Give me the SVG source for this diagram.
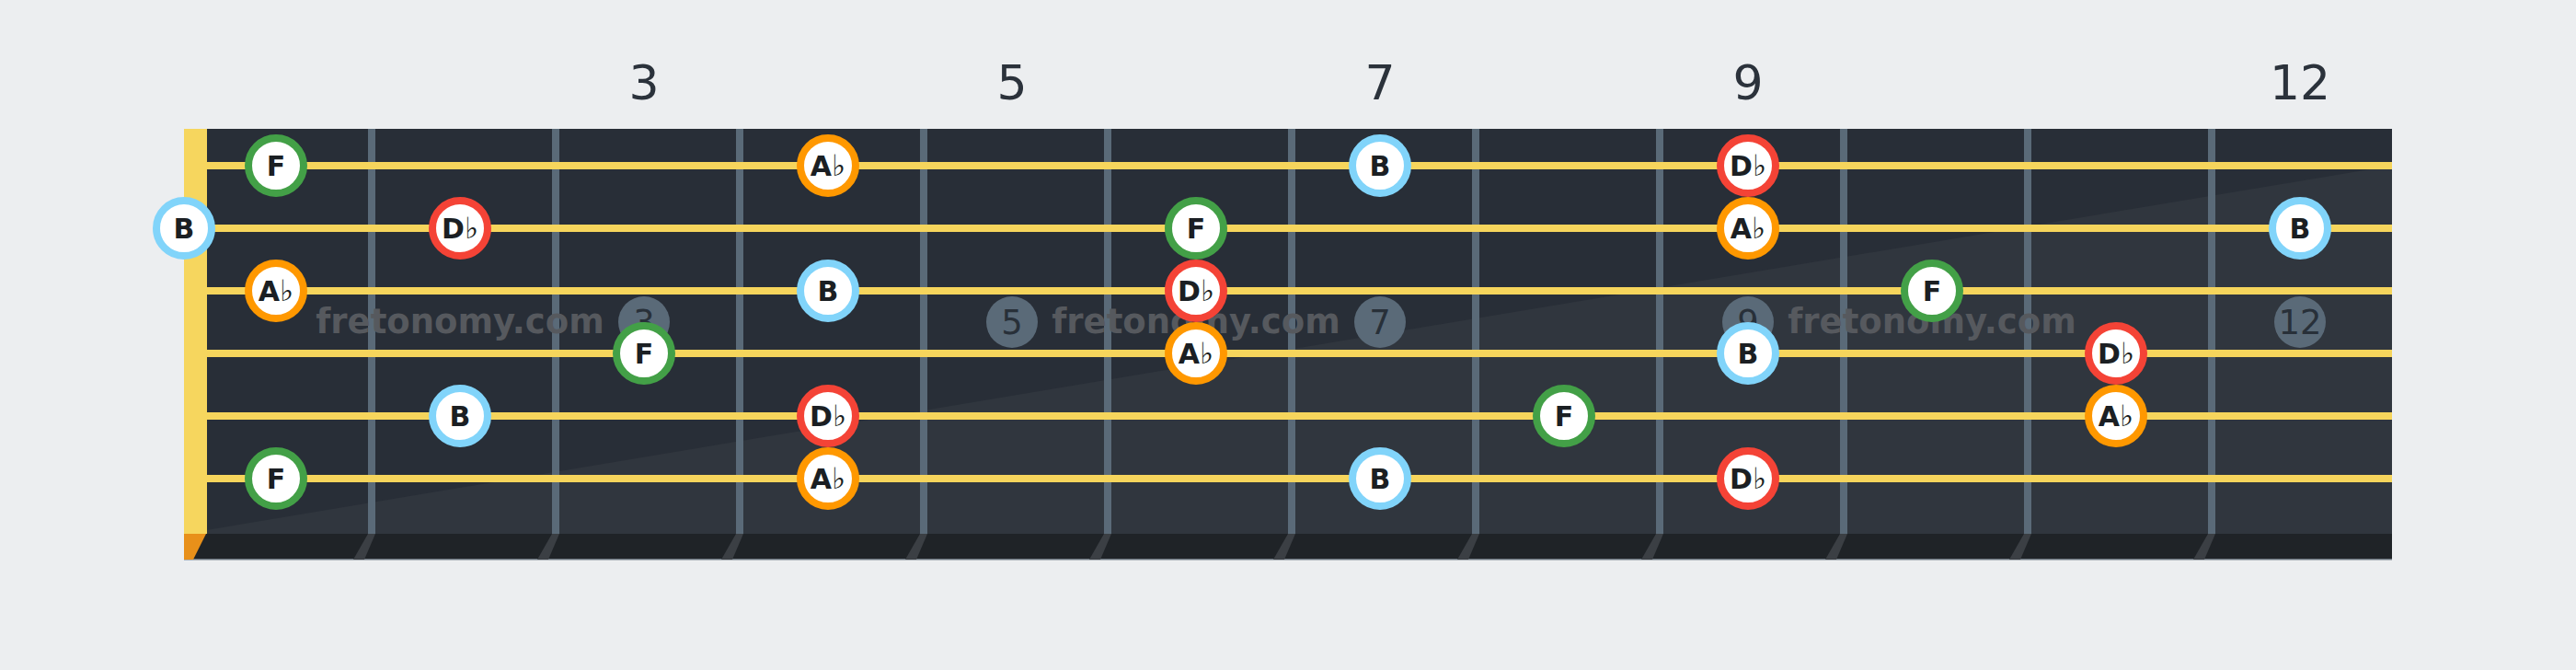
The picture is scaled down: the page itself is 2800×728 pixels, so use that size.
<svg xmlns="http://www.w3.org/2000/svg" width="2800" height="728" viewBox="0 0 2800 728">
<style>
.num{font-family:"DejaVu Sans",sans-serif;font-size:52px;fill:#2b323b;text-anchor:middle}
.mk{fill:#5a6a78}
.mkt{font-family:"DejaVu Sans",sans-serif;font-size:37px;fill:#283039;text-anchor:middle}
.wm{font-family:"DejaVu Sans",sans-serif;font-weight:bold;font-size:37px;fill:#56595e;text-anchor:middle}
.fret{fill:#5a6a78}
.foot{fill:#3b3f44}
.str{stroke:#f6d55c;stroke-width:8}
.n circle{fill:#ffffff;stroke-width:8}
.F circle{stroke:#43a047}
.B circle{stroke:#81d4fa}
.Db circle{stroke:#f44336}
.Ab circle{stroke:#ff9800}
.n text{font-family:"DejaVu Sans",sans-serif;font-weight:bold;font-size:30px;fill:#1b1f23;text-anchor:middle}
.fl{font-weight:normal;font-size:32px}
</style>
<rect x="0" y="0" width="2800" height="728" fill="#eceef0"/>
<g id="fret-numbers">
<text class="num" x="700" y="108">3</text>
<text class="num" x="1100" y="108">5</text>
<text class="num" x="1500" y="108">7</text>
<text class="num" x="1900" y="108">9</text>
<text class="num" x="2500" y="108">12</text>
</g>
<g id="board">
<rect x="200" y="140" width="2400" height="440" fill="#282e37"/>
<polygon points="200,580 2600,180 2600,580" fill="#30363e"/>
<rect x="200" y="580" width="2400" height="28" fill="#1f2327"/>
<rect x="200" y="607" width="2400" height="1.5" fill="#6a747e"/>
<polygon points="200,580 224,580 210,608 200,608" fill="#e8901a"/>
<rect x="200" y="140" width="25" height="440" fill="#f6d65e"/>
</g>
<g id="frets">
<rect class="fret" x="400" y="140" width="8" height="440"/>
<rect class="fret" x="600" y="140" width="8" height="440"/>
<rect class="fret" x="800" y="140" width="8" height="440"/>
<rect class="fret" x="1000" y="140" width="8" height="440"/>
<rect class="fret" x="1200" y="140" width="8" height="440"/>
<rect class="fret" x="1400" y="140" width="8" height="440"/>
<rect class="fret" x="1600" y="140" width="8" height="440"/>
<rect class="fret" x="1800" y="140" width="8" height="440"/>
<rect class="fret" x="2000" y="140" width="8" height="440"/>
<rect class="fret" x="2200" y="140" width="8" height="440"/>
<rect class="fret" x="2400" y="140" width="8" height="440"/>
<polygon class="foot" points="400,580 408,580 396,608 384,608"/>
<polygon class="foot" points="600,580 608,580 596,608 584,608"/>
<polygon class="foot" points="800,580 808,580 796,608 784,608"/>
<polygon class="foot" points="1000,580 1008,580 996,608 984,608"/>
<polygon class="foot" points="1200,580 1208,580 1196,608 1184,608"/>
<polygon class="foot" points="1400,580 1408,580 1396,608 1384,608"/>
<polygon class="foot" points="1600,580 1608,580 1596,608 1584,608"/>
<polygon class="foot" points="1800,580 1808,580 1796,608 1784,608"/>
<polygon class="foot" points="2000,580 2008,580 1996,608 1984,608"/>
<polygon class="foot" points="2200,580 2208,580 2196,608 2184,608"/>
<polygon class="foot" points="2400,580 2408,580 2396,608 2384,608"/>
</g>
<g id="markers">
<circle class="mk" cx="700" cy="350" r="28"/><text class="mkt" x="700" y="363">3</text>
<circle class="mk" cx="1100" cy="350" r="28"/><text class="mkt" x="1100" y="363">5</text>
<circle class="mk" cx="1500" cy="350" r="28"/><text class="mkt" x="1500" y="363">7</text>
<circle class="mk" cx="1900" cy="350" r="28"/><text class="mkt" x="1900" y="363">9</text>
<circle class="mk" cx="2500" cy="350" r="28"/><text class="mkt" x="2500" y="363">12</text>
</g>
<g id="watermarks">
<text class="wm" x="500" y="362">fretonomy.com</text>
<text class="wm" x="1300" y="362">fretonomy.com</text>
<text class="wm" x="2100" y="362">fretonomy.com</text>
</g>
<g id="strings">
<line class="str" x1="225" y1="180" x2="2600" y2="180"/>
<line class="str" x1="225" y1="248" x2="2600" y2="248"/>
<line class="str" x1="225" y1="316" x2="2600" y2="316"/>
<line class="str" x1="225" y1="384" x2="2600" y2="384"/>
<line class="str" x1="225" y1="452" x2="2600" y2="452"/>
<line class="str" x1="225" y1="520" x2="2600" y2="520"/>
</g>
<g id="notes">
<g id="s1-f1" class="n F"><circle cx="300" cy="180" r="30"/><text x="300" y="191">F</text></g>
<g id="s1-f4" class="n Ab"><circle cx="900" cy="180" r="30"/><text x="900" y="191">A<tspan class="fl">♭</tspan></text></g>
<g id="s1-f7" class="n B"><circle cx="1500" cy="180" r="30"/><text x="1500" y="191">B</text></g>
<g id="s1-f9" class="n Db"><circle cx="1900" cy="180" r="30"/><text x="1900" y="191">D<tspan class="fl">♭</tspan></text></g>

<g id="s2-f0" class="n B"><circle cx="200" cy="248" r="30"/><text x="200" y="259">B</text></g>
<g id="s2-f2" class="n Db"><circle cx="500" cy="248" r="30"/><text x="500" y="259">D<tspan class="fl">♭</tspan></text></g>
<g id="s2-f6" class="n F"><circle cx="1300" cy="248" r="30"/><text x="1300" y="259">F</text></g>
<g id="s2-f9" class="n Ab"><circle cx="1900" cy="248" r="30"/><text x="1900" y="259">A<tspan class="fl">♭</tspan></text></g>
<g id="s2-f12" class="n B"><circle cx="2500" cy="248" r="30"/><text x="2500" y="259">B</text></g>

<g id="s3-f1" class="n Ab"><circle cx="300" cy="316" r="30"/><text x="300" y="327">A<tspan class="fl">♭</tspan></text></g>
<g id="s3-f4" class="n B"><circle cx="900" cy="316" r="30"/><text x="900" y="327">B</text></g>
<g id="s3-f6" class="n Db"><circle cx="1300" cy="316" r="30"/><text x="1300" y="327">D<tspan class="fl">♭</tspan></text></g>
<g id="s3-f10" class="n F"><circle cx="2100" cy="316" r="30"/><text x="2100" y="327">F</text></g>

<g id="s4-f3" class="n F"><circle cx="700" cy="384" r="30"/><text x="700" y="395">F</text></g>
<g id="s4-f6" class="n Ab"><circle cx="1300" cy="384" r="30"/><text x="1300" y="395">A<tspan class="fl">♭</tspan></text></g>
<g id="s4-f9" class="n B"><circle cx="1900" cy="384" r="30"/><text x="1900" y="395">B</text></g>
<g id="s4-f11" class="n Db"><circle cx="2300" cy="384" r="30"/><text x="2300" y="395">D<tspan class="fl">♭</tspan></text></g>

<g id="s5-f2" class="n B"><circle cx="500" cy="452" r="30"/><text x="500" y="463">B</text></g>
<g id="s5-f4" class="n Db"><circle cx="900" cy="452" r="30"/><text x="900" y="463">D<tspan class="fl">♭</tspan></text></g>
<g id="s5-f8" class="n F"><circle cx="1700" cy="452" r="30"/><text x="1700" y="463">F</text></g>
<g id="s5-f11" class="n Ab"><circle cx="2300" cy="452" r="30"/><text x="2300" y="463">A<tspan class="fl">♭</tspan></text></g>

<g id="s6-f1" class="n F"><circle cx="300" cy="520" r="30"/><text x="300" y="531">F</text></g>
<g id="s6-f4" class="n Ab"><circle cx="900" cy="520" r="30"/><text x="900" y="531">A<tspan class="fl">♭</tspan></text></g>
<g id="s6-f7" class="n B"><circle cx="1500" cy="520" r="30"/><text x="1500" y="531">B</text></g>
<g id="s6-f9" class="n Db"><circle cx="1900" cy="520" r="30"/><text x="1900" y="531">D<tspan class="fl">♭</tspan></text></g>
</g>
</svg>
